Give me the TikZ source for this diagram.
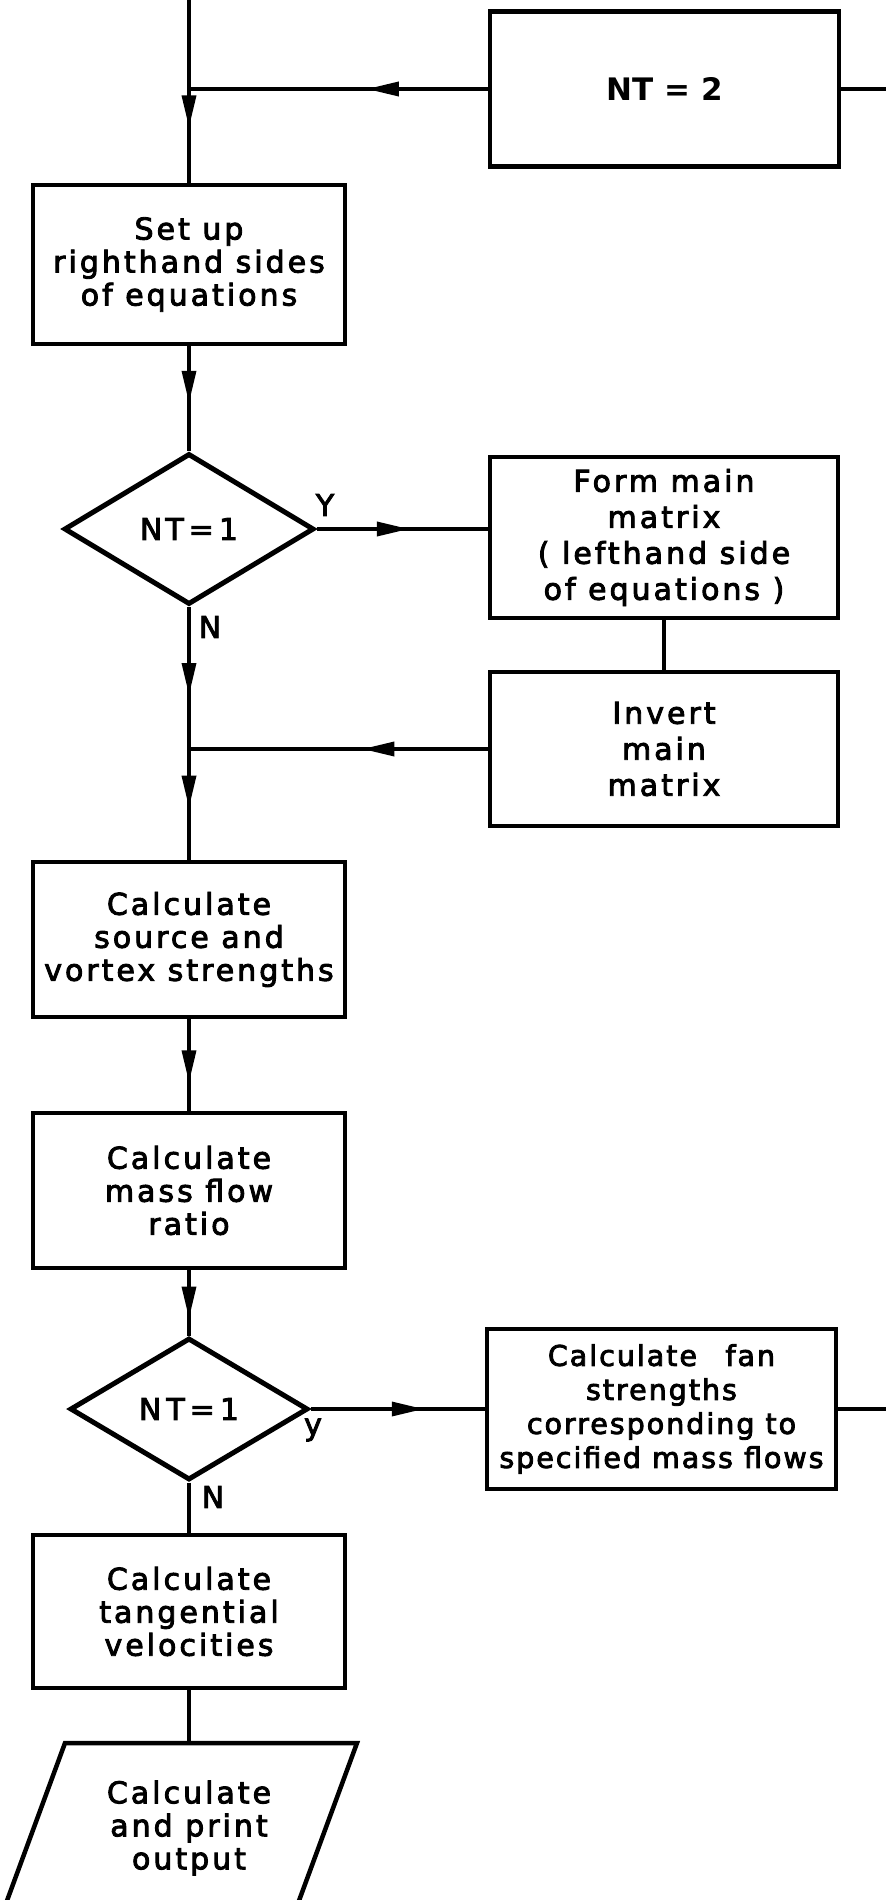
\documentclass[tikz,border=0pt]{standalone}
\usepackage{fontspec}
\setmainfont{DejaVu Sans}
\newfontfamily\letfam[LetterSpace=10,FakeBold=3]{DejaVu Sans}
\newfontfamily\letfamn[LetterSpace=7,FakeBold=3]{DejaVu Sans}
\newfontfamily\typefam{DejaVu Sans}
\usetikzlibrary{shapes.geometric,arrows.meta,decorations.markings}
\newcommand\letfont{\letfam\fontsize{30}{33}\selectfont}
\newcommand\letfontw{\letfam\fontsize{30}{36}\selectfont}
\newcommand\letfontf{\letfamn\fontsize{28.5}{34}\selectfont}
\begin{document}
\begin{tikzpicture}[x=1pt,y=-1pt,
  box/.style 2 args={draw,line width=4.5pt,rectangle,inner sep=0pt,align=center,font=\letfont,minimum width=#1,minimum height=#2},
  dec/.style 2 args={draw,line width=5pt,diamond,inner sep=0pt,font=\letfont,minimum width=#1,minimum height=#2},
  conn/.style={line width=3.4pt},
  arrowat/.style={postaction={decorate},decoration={markings,mark=at position #1 with {\arrow{Triangle[length=32pt,width=14pt]}}}},
  lbl/.style={font=\letfont,inner sep=0pt,align=center}
]
\useasboundingbox (0,0) rectangle (886,1900);
\clip (0,0) rectangle (886,1900);

% nodes
\node[box={349pt}{155pt},font=\typefam\bfseries\fontsize{31}{36}\selectfont] (nt2) at (664.5,89) {NT = 2};
\node[box={312pt}{159pt}] (setup) at (189,264.5) {Set up\\righthand sides\\of equations};
\node[dec={250pt}{151pt}] (d1) at (189,529) {NT\,=\,1};
\node[box={348pt}{161pt},font=\letfontw] (form) at (664,537.5) {Form main\\matrix\\( lefthand side\\of equations )};
\node[box={348pt}{154pt},font=\letfontw] (inv) at (664,749) {Invert\\main\\matrix};
\node[box={312pt}{155pt}] (src) at (189,939.5) {Calculate\\source and\\vortex strengths};
\node[box={312pt}{155pt}] (mass) at (189,1190.5) {Calculate\\mass flow\\ratio};
\node[dec={238pt}{142pt}] (d2) at (189,1409) {N\,T\,=\,1};
\node[box={349pt}{160pt},font=\letfontf] (fan) at (661.5,1409) {Calculate\quad fan\\strengths\\corresponding to\\specified mass flows};
\node[box={312pt}{153pt}] (tang) at (189,1611.5) {Calculate\\tangential\\velocities};

% output parallelogram (cut by the lower edge)
\draw[line width=4.5pt,line join=miter] (65,1743) -- (357,1743) -- (272.4,1973) -- (-19.6,1973) -- cycle;
\node[lbl] (out) at (189,1828) {Calculate\\and print\\output};

% labels
\node[lbl] (ly1) at (325,505) {Y};
\node[lbl] (ln1) at (210,627) {N};
\node[lbl] (ly2) at (313,1430) {y};
\node[lbl] (ln2) at (213,1497) {N};

% coordinates
\coordinate (top) at (189,0);
\coordinate (j1) at (189,89);
\coordinate (j2) at (189,749);
\coordinate (r1) at (886,89);
\coordinate (r2) at (886,1409);
\coordinate (outtop) at (189,1743);

% connectors
\draw[conn] (top) -- (j1);
\draw[conn,arrowat=0.41] (j1) -- (setup.north);
\draw[conn,arrowat=0.405] (nt2.west) -- (j1);
\draw[conn] (nt2.east) -- (r1);
\draw[conn,arrowat=0.54] (setup.south) -- (d1.north);
\draw[conn,arrowat=0.54] (d1.east) -- (d1.east -| form.west);
\draw[conn] (form.south) -- (inv.north);
\draw[conn,arrowat=0.42] (inv.west) -- (j2);
\draw[conn,arrowat=0.62] (d1.south) -- (j2);
\draw[conn,arrowat=0.53] (j2) -- (src.north);
\draw[conn,arrowat=0.69] (src.south) -- (mass.north);
\draw[conn,arrowat=0.74] (mass.south) -- (d2.north);
\draw[conn,arrowat=0.65] (d2.east) -- (fan.west);
\draw[conn] (fan.east) -- (r2);
\draw[conn] (d2.south) -- (tang.north);
\draw[conn] (tang.south) -- (outtop);
\end{tikzpicture}
\end{document}
